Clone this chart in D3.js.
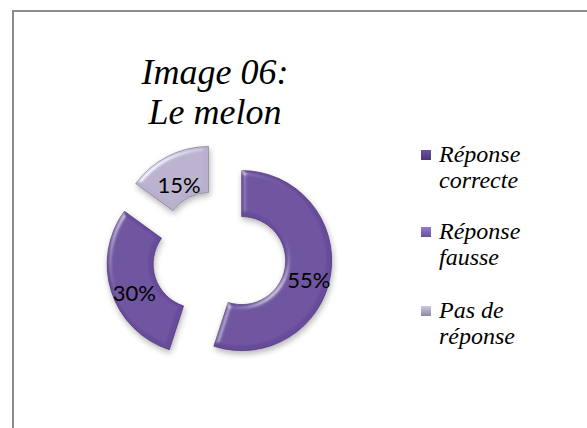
<!doctype html>
<html>
<head>
    <title>Image 06: Le melon</title>
    <script src="https://d3js.org/d3.v7.min.js"></script>
    <style>
      body { margin: 0; background: #fff; }
      .serif { font-family: "Liberation Serif", "Times New Roman", serif; font-style: italic; }
    </style>
</head>
<body>
    <script>
    var width = 587, height = 428;

    var categories = ["Réponse correcte", "Réponse fausse", "Pas de réponse"];
    var values = [55, 30, 15];
    var legendLines = [["Réponse", "correcte"], ["Réponse", "fausse"], ["Pas de", "réponse"]];
    var titleLines = ["Image 06:", "Le melon"];
    var sliceColors = ["#694c9c", "#694c9c", "#b8b0cc"];
    var markerColors = ["#56408a", "#7a61b0", "#a8a1bd"];

    var svg = d3.select("body")
                .append("svg")
                .attr("width", width)
                .attr("height", height);

    var defs = svg.append("defs");

    // bevel look for the slices (light only on the edges)
    var bevel = defs.append("filter").attr("id", "bevel")
                    .attr("x", "-20%").attr("y", "-20%").attr("width", "140%").attr("height", "140%");
    bevel.append("feGaussianBlur").attr("in", "SourceAlpha").attr("stdDeviation", 2.5).attr("result", "blur");
    var spec = bevel.append("feSpecularLighting").attr("in", "blur")
                    .attr("surfaceScale", 3).attr("specularConstant", 0.7)
                    .attr("specularExponent", 25).attr("lighting-color", "#ffffff").attr("result", "spec");
    spec.append("feDistantLight").attr("azimuth", 225).attr("elevation", 35);
    bevel.append("feComposite").attr("in", "spec").attr("in2", "SourceAlpha").attr("operator", "in").attr("result", "specOut");
    bevel.append("feComposite").attr("in", "SourceGraphic").attr("in2", "specOut")
         .attr("operator", "arithmetic").attr("k1", 0).attr("k2", 1).attr("k3", 0.6).attr("k4", 0).attr("result", "lit");
    bevel.append("feOffset").attr("in", "SourceAlpha").attr("dx", 1).attr("dy", 3).attr("result", "off");
    bevel.append("feGaussianBlur").attr("in", "off").attr("stdDeviation", 3).attr("result", "shBlur");
    bevel.append("feComponentTransfer").attr("in", "shBlur").attr("result", "shadow")
         .append("feFuncA").attr("type", "linear").attr("slope", 0.3);
    var merge = bevel.append("feMerge");
    merge.append("feMergeNode").attr("in", "shadow");
    merge.append("feMergeNode").attr("in", "lit");

    markerColors.forEach(function(c, i){
      var g = defs.append("linearGradient").attr("id", "mk" + i)
                  .attr("x1", 0).attr("y1", 0).attr("x2", 0).attr("y2", 1);
      g.append("stop").attr("offset", "0%").attr("stop-color", d3.color(c).brighter(0.6));
      g.append("stop").attr("offset", "100%").attr("stop-color", d3.color(c).darker(0.5));
    });

    // frame
    svg.append("path")
       .attr("d", "M13,430 L13,11 L590,11")
       .attr("fill", "none")
       .attr("stroke", "#8c8c8c")
       .attr("stroke-width", 2);

    // title
    svg.append("text")
       .attr("class", "serif")
       .attr("x", 215)
       .attr("y", 84)
       .attr("text-anchor", "middle")
       .style("font-size", "36px")
       .selectAll("tspan")
       .data(titleLines)
       .enter().append("tspan")
       .attr("x", 215)
       .attr("dy", function(d, i){ return i === 0 ? 0 : 40; })
       .text(function(d){ return d; });

    // donut
    var cx = 219, cy = 257, outerR = 90, innerR = 44, explode = 23, labelR = 67;

    var pie = d3.pie().sort(null).value(function(d){ return d; });
    var arc = d3.arc().innerRadius(innerR).outerRadius(outerR);
    var slices = pie(values);

    var chart = svg.append("g").attr("transform", "translate(" + cx + "," + cy + ")");

    var sliceG = chart.selectAll("g.slice")
                      .data(slices)
                      .enter().append("g")
                      .attr("class", "slice")
                      .attr("transform", function(d){
                        var a = (d.startAngle + d.endAngle) / 2;
                        return "translate(" + (Math.sin(a) * explode) + "," + (-Math.cos(a) * explode) + ")";
                      });

    sliceG.append("path")
          .attr("d", arc)
          .attr("fill", function(d, i){ return sliceColors[i]; })
          .attr("stroke", function(d, i){ return d3.color(sliceColors[i]).darker(0.8); })
          .attr("stroke-width", 0.8)
          .attr("filter", "url(#bevel)");

    sliceG.append("text")
          .attr("x", function(d){ var a = (d.startAngle + d.endAngle) / 2; return Math.sin(a) * labelR + 1; })
          .attr("y", function(d){ var a = (d.startAngle + d.endAngle) / 2; return -Math.cos(a) * labelR + 8; })
          .attr("text-anchor", "middle")
          .attr("dominant-baseline", "central")
          .style("font-family", "Lato, 'Open Sans', sans-serif")
          .style("font-size", "22px")
          .style("fill", "#000")
          .text(function(d){ return d.data + "%"; });

    // legend
    var legendTops = [150, 227, 306];
    var legend = svg.selectAll("g.legend")
                    .data(categories)
                    .enter().append("g")
                    .attr("class", "legend")
                    .attr("transform", function(d, i){ return "translate(421," + legendTops[i] + ")"; });

    legend.append("rect")
          .attr("width", 10)
          .attr("height", 10)
          .attr("fill", function(d, i){ return "url(#mk" + i + ")"; });

    legend.append("text")
          .attr("class", "serif")
          .style("font-size", "24px")
          .selectAll("tspan")
          .data(function(d, i){ return legendLines[i]; })
          .enter().append("tspan")
          .attr("x", 18)
          .attr("y", function(d, j){ return 12 + j * 26; })
          .text(function(d){ return d; });
    </script>
</body>
</html>
